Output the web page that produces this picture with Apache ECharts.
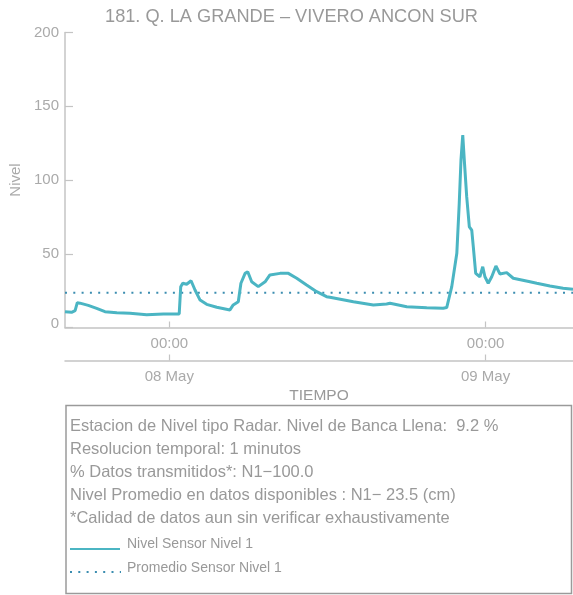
<!DOCTYPE html>
<html>
<head>
<meta charset="utf-8">
<script src="https://cdn.jsdelivr.net/npm/echarts@6/dist/echarts.min.js"></script>
<style>
html,body{margin:0;padding:0;background:#fff;}
#chart{width:573px;height:595px;}
</style>
</head>
<body>
<div id="chart"></div>
<script>
// ---- Data ----
const chartTitle = '181. Q. LA GRANDE \u2013 VIVERO ANCON SUR';
const times = [
  '2024-05-07 16:05','2024-05-07 16:35','2024-05-07 16:51','2024-05-07 17:01','2024-05-07 17:13',
  '2024-05-07 17:51','2024-05-07 18:29','2024-05-07 19:07','2024-05-07 20:01','2024-05-07 21:01',
  '2024-05-07 22:17','2024-05-07 23:33','2024-05-08 00:34','2024-05-08 00:45','2024-05-08 00:52',
  '2024-05-08 01:01','2024-05-08 01:19','2024-05-08 01:39','2024-05-08 01:57','2024-05-08 02:20',
  '2024-05-08 02:50','2024-05-08 03:36','2024-05-08 04:36','2024-05-08 04:51','2024-05-08 05:14',
  '2024-05-08 05:26','2024-05-08 05:45','2024-05-08 05:57','2024-05-08 06:15','2024-05-08 06:45',
  '2024-05-08 07:16','2024-05-08 07:38','2024-05-08 08:24','2024-05-08 09:02','2024-05-08 09:40',
  '2024-05-08 10:25','2024-05-08 11:11','2024-05-08 11:56','2024-05-08 12:11','2024-05-08 13:58',
  '2024-05-08 15:29','2024-05-08 16:29','2024-05-08 16:45','2024-05-08 18:01','2024-05-08 19:32',
  '2024-05-08 20:47','2024-05-08 21:03','2024-05-08 21:15','2024-05-08 21:26','2024-05-08 21:49',
  '2024-05-08 22:00','2024-05-08 22:08','2024-05-08 22:16','2024-05-08 22:23','2024-05-08 22:34',
  '2024-05-08 22:46','2024-05-08 22:57','2024-05-08 23:04','2024-05-08 23:15','2024-05-08 23:34',
  '2024-05-08 23:47','2024-05-08 23:57','2024-05-09 00:12','2024-05-09 00:28','2024-05-09 00:47',
  '2024-05-09 01:05','2024-05-09 01:36','2024-05-09 02:06','2024-05-09 03:22','2024-05-09 03:53',
  '2024-05-09 04:53','2024-05-09 05:53','2024-05-09 06:38'
];
const nivel = [
  10.7, 10.3, 11.4, 16.8, 16.5,
  15.0, 13.0, 10.7, 10.0, 9.6,
  8.7, 9.2, 9.2, 9.2, 27.7,
  30.0, 29.3, 31.7, 25.4, 18.6,
  15.7, 13.7, 11.9, 15.3, 17.5,
  30.0, 36.7, 37.8, 31.0, 27.7,
  31.0, 35.6, 36.7, 36.7, 33.4,
  28.8, 24.3, 20.9, 20.5, 17.5,
  15.3, 15.9, 16.4, 14.1, 13.4,
  13.0, 13.5, 20.9, 27.7, 50.3,
  84.0, 113.6, 130.5, 113.6, 88.7,
  68.3, 66.0, 54.8, 36.7, 34.4,
  41.2, 34.4, 30.0, 34.4, 41.7,
  36.3, 37.2, 33.4, 31.0, 30.0,
  28.1, 26.6, 25.9
];
const nivelPromedio = 23.5;
const yTicks = [0, 50, 100, 150, 200];
const dayTicks = ['2024-05-08 00:00', '2024-05-09 00:00'];
const hourLabel = '00:00';
const monthNames = ['Jan','Feb','Mar','Apr','May','Jun','Jul','Aug','Sep','Oct','Nov','Dec'];
const infoLines = [
  'Estacion de Nivel tipo Radar. Nivel de Banca Llena:  9.2 %',
  'Resolucion temporal: 1 minutos',
  '% Datos transmitidos*: N1\u2212100.0',
  'Nivel Promedio en datos disponibles : N1\u2212 23.5 (cm)',
  '*Calidad de datos aun sin verificar exhaustivamente'
];
const seriesNames = ['Nivel Sensor Nivel 1', 'Promedio Sensor Nivel 1'];

// ---- Chart ----
const FONT = '"Liberation Sans", Arial, sans-serif';
const lineColor = '#4bb5c3';
const meanColor = '#3b8db0';
const axisColor = '#c4c4c4';
const labelColor = '#aaaaaa';
const textColor = '#999999';

const toTs = s => {
  const [d, t] = s.split(' ');
  const [Y, M, D] = d.split('-').map(Number);
  const [h, m] = t.split(':').map(Number);
  return new Date(Y, M - 1, D, h, m).getTime();
};
const xs = times.map(toTs);
const tMin = xs[0], tMax = xs[xs.length - 1];
const dayTs = dayTicks.map(toTs);

const chart = echarts.init(document.getElementById('chart'), null, {renderer: 'canvas'});

function timeAxis(extra) {
  return Object.assign({
    type: 'value',
    min: tMin,
    max: tMax,
    position: 'bottom',
    axisLine: {show: true, onZero: false, lineStyle: {color: axisColor, width: 1.5}},
    splitLine: {show: false},
    axisPointer: {show: false}
  }, extra);
}

const infoGraphics = infoLines.map((t, i) => ({
  type: 'text', x: 70, y: 426.5 + i * 23,
  style: {text: t, fill: textColor, font: '16.5px ' + FONT, textVerticalAlign: 'middle', verticalAlign: 'middle'}
}));

chart.setOption({
  animation: false,
  backgroundColor: '#fff',
  grid: {left: 65, right: 0, top: 32.5, bottom: 267.5, containLabel: false},
  xAxis: [
    timeAxis({
      axisTick: {show: true, inside: true, length: 6, customValues: dayTs, lineStyle: {color: axisColor, width: 1.2}},
      axisLabel: {show: true, customValues: dayTs, formatter: () => hourLabel, color: labelColor, fontSize: 15, fontFamily: FONT, margin: 9}
    }),
    timeAxis({
      offset: 33,
      axisTick: {show: true, inside: true, length: 6, customValues: dayTs, lineStyle: {color: axisColor, width: 1.2}},
      axisLabel: {show: true, customValues: dayTs, color: labelColor, fontSize: 15, fontFamily: FONT, margin: 9,
        formatter: v => { const d = new Date(v); return String(d.getDate()).padStart(2, '0') + ' ' + monthNames[d.getMonth()]; }},
      name: 'TIEMPO', nameLocation: 'middle', nameGap: 27,
      nameTextStyle: {color: textColor, fontSize: 15.5, fontFamily: FONT}
    })
  ],
  yAxis: {
    type: 'value', min: 0, max: 200, interval: 50,
    axisLine: {show: true, lineStyle: {color: axisColor, width: 1.5}},
    axisTick: {show: true, inside: true, length: 8, lineStyle: {color: axisColor, width: 1.2}},
    splitLine: {show: false},
    axisLabel: {
      color: labelColor, fontSize: 15, fontFamily: FONT, margin: 6,
      formatter: v => v === 0 ? '{z|0}' : String(v),
      rich: {z: {color: labelColor, fontSize: 15, fontFamily: FONT, padding: [0, 0, 8, 0]}}
    },
    name: 'Nivel', nameLocation: 'middle', nameRotate: 90, nameGap: 42,
    nameTextStyle: {color: labelColor, fontSize: 15, fontFamily: FONT}
  },
  series: [
    {
      name: seriesNames[0], type: 'line', xAxisIndex: 0,
      data: xs.map((t, i) => [t, nivel[i]]),
      showSymbol: false, symbol: 'none',
      lineStyle: {color: lineColor, width: 3},
      z: 3
    },
    {
      name: seriesNames[1], type: 'line', xAxisIndex: 0,
      data: [[tMin, nivelPromedio], [tMax, nivelPromedio]],
      showSymbol: false, symbol: 'none',
      lineStyle: {color: meanColor, width: 2, type: [2, 6.3]},
      z: 2
    }
  ],
  graphic: [
    {type: 'text', x: 291.5, y: 17, z: 10,
     style: {text: chartTitle, fill: textColor, font: '18.2px ' + FONT, align: 'center', textAlign: 'center', verticalAlign: 'middle', textVerticalAlign: 'middle'}},
    {type: 'rect', shape: {x: 66, y: 405.5, width: 505.5, height: 188}, style: {fill: 'none', stroke: '#9a9a9a', lineWidth: 1.5}},
    ...infoGraphics,
    {type: 'line', shape: {x1: 70, y1: 549, x2: 120, y2: 549}, style: {stroke: lineColor, lineWidth: 2}},
    {type: 'text', x: 127, y: 544, style: {text: seriesNames[0], fill: textColor, font: '14px ' + FONT, verticalAlign: 'middle', textVerticalAlign: 'middle'}},
    {type: 'line', shape: {x1: 70, y1: 572, x2: 121, y2: 572}, style: {stroke: meanColor, lineWidth: 2, lineDash: [2, 6.3]}},
    {type: 'text', x: 127, y: 568, style: {text: seriesNames[1], fill: textColor, font: '14px ' + FONT, verticalAlign: 'middle', textVerticalAlign: 'middle'}}
  ]
});
</script>
</body>
</html>
